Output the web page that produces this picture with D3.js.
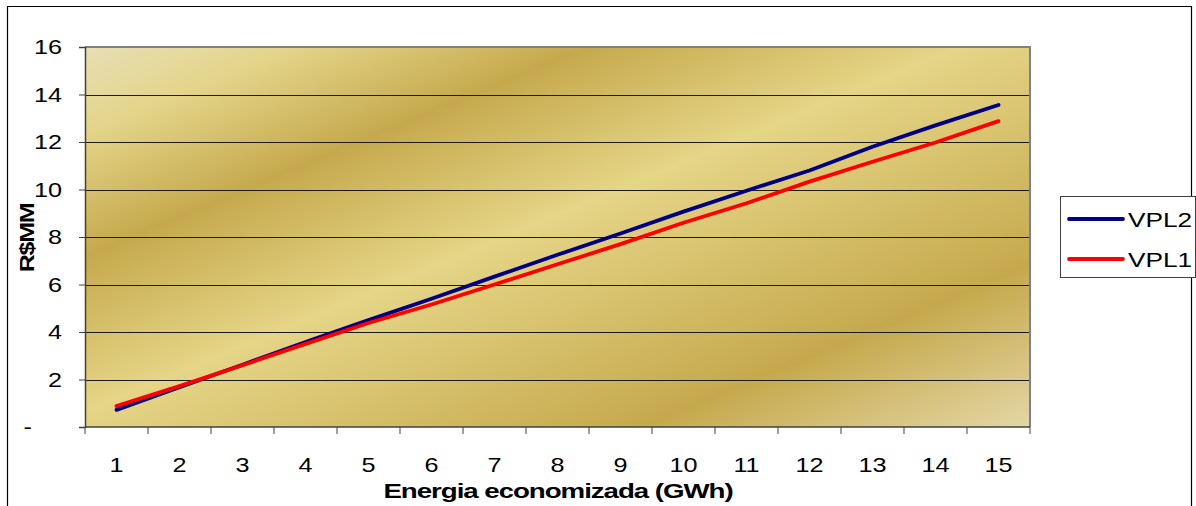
<!DOCTYPE html>
<html>
<head>
<meta charset="utf-8">
<script src="https://cdn.jsdelivr.net/npm/d3@7"></script>
<style>
  body { margin: 0; background: #fff; }
  text { font-family: "Liberation Sans", Arial, sans-serif; }
</style>
</head>
<body>
<div id="chart"></div>
<script>
const categories = ["1","2","3","4","5","6","7","8","9","10","11","12","13","14","15"];
const vpl2 = [0.72, 1.68, 2.62, 3.58, 4.5, 5.4, 6.33, 7.25, 8.15, 9.07, 9.95, 10.8, 11.8, 12.7, 13.56];
const vpl1 = [0.88, 1.72, 2.6, 3.5, 4.38, 5.16, 6.0, 6.85, 7.7, 8.6, 9.42, 10.33, 11.17, 11.98, 12.88];
const yTicks = [0, 2, 4, 6, 8, 10, 12, 14, 16];
const seriesNames = ["VPL2", "VPL1"];
const seriesColors = ["#000080", "#ff0000"];

const width = 1196, height = 506;
const plot = { left: 85, top: 47, right: 1030, bottom: 427 };

// the original text is drawn wider than the font's natural width
function stretch(sel, k) {
  sel.each(function() {
    const w = this.getComputedTextLength();
    d3.select(this)
      .attr("textLength", w * k)
      .attr("lengthAdjust", "spacingAndGlyphs");
  });
}

const svg = d3.select("#chart")
  .append("svg")
  .attr("width", width)
  .attr("height", height);

// outer chart border
svg.append("path")
  .attr("d", `M7.5,${height} V6.5 H1191.5 V${height}`)
  .attr("fill", "none")
  .attr("stroke", "#000")
  .attr("stroke-width", 1.2);

// gold diagonal gradient
const defs = svg.append("defs");
const grad = defs.append("linearGradient")
  .attr("id", "gold")
  .attr("gradientUnits", "userSpaceOnUse")
  .attr("x1", 85).attr("y1", 47)
  .attr("x2", 360).attr("y2", 707);
[[0, "#e7dfb6"], [0.11, "#e4d58b"], [0.27, "#c6a94d"], [0.47, "#e5d587"],
 [0.79, "#c6a94d"], [1, "#e3d7a6"]].forEach(s => {
  grad.append("stop").attr("offset", s[0]).attr("stop-color", s[1]);
});

const xScale = d3.scaleBand()
  .domain(categories)
  .range([plot.left, plot.right]);

const yScale = d3.scaleLinear()
  .domain([0, 16])
  .range([plot.bottom, plot.top]);

svg.append("rect")
  .attr("x", plot.left).attr("y", plot.top)
  .attr("width", plot.right - plot.left)
  .attr("height", plot.bottom - plot.top)
  .attr("fill", "url(#gold)");

// gridlines
svg.selectAll(".grid")
  .data(yTicks.filter(d => d > 0 && d < 16))
  .enter()
  .append("line")
  .attr("x1", plot.left).attr("x2", plot.right)
  .attr("y1", d => Math.round(yScale(d)) + 0.5)
  .attr("y2", d => Math.round(yScale(d)) + 0.5)
  .attr("stroke", "#1a1a1a")
  .attr("stroke-width", 1.2);

// plot border (top / right)
svg.append("path")
  .attr("d", `M${plot.left},${plot.top} H${plot.right} V${plot.bottom}`)
  .attr("fill", "none")
  .attr("stroke", "#808080")
  .attr("stroke-width", 2);

// y axis
const yAxis = svg.append("g")
  .attr("transform", `translate(${plot.left},0)`)
  .call(d3.axisLeft(yScale)
    .tickValues(yTicks)
    .tickFormat(d => d === 0 ? "-" : d)
    .tickSize(6)
    .tickPadding(17));
yAxis.select(".domain").attr("stroke", "#404040").attr("stroke-width", 1.5);
yAxis.selectAll(".tick line").attr("stroke", "#404040");
yAxis.selectAll("text")
  .style("font-size", "21px")
  .attr("fill", "#000")
  .call(stretch, 1.2);
yAxis.selectAll(".tick").filter(d => d === 0).select("text").attr("x", -53);

// x axis: labels centred, ticks on category boundaries
const xAxis = svg.append("g")
  .attr("transform", `translate(0,${plot.bottom})`)
  .call(d3.axisBottom(xScale).tickSize(0).tickPadding(30));
xAxis.select(".domain").remove();
xAxis.selectAll("text")
  .style("font-size", "21px")
  .attr("fill", "#000")
  .call(stretch, 1.2);

const bounds = categories.map(c => xScale(c)).concat([plot.right]);
svg.append("line")
  .attr("x1", plot.left).attr("x2", plot.right)
  .attr("y1", plot.bottom).attr("y2", plot.bottom)
  .attr("stroke", "#404040")
  .attr("stroke-width", 1.5);
svg.selectAll(".xtick")
  .data(bounds)
  .enter()
  .append("line")
  .attr("x1", d => d).attr("x2", d => d)
  .attr("y1", plot.bottom).attr("y2", plot.bottom + 7)
  .attr("stroke", "#404040");

// series lines
const line = d3.line()
  .x((d, i) => xScale(categories[i]) + xScale.bandwidth() / 2)
  .y(d => yScale(d));

[vpl2, vpl1].forEach((vals, k) => {
  svg.append("path")
    .datum(vals)
    .attr("d", line)
    .attr("fill", "none")
    .attr("stroke", seriesColors[k])
    .attr("stroke-width", 3.8)
    .attr("stroke-linecap", "round")
    .attr("stroke-linejoin", "round");
});

// axis titles
svg.append("text")
  .attr("transform", "translate(558,498) scale(1.32,1)")
  .attr("text-anchor", "middle")
  .style("font-size", "21px")
  .style("font-weight", "bold")
  .style("letter-spacing", "-0.8px")
  .text("Energia economizada (GWh)");

svg.append("text")
  .attr("transform", "translate(34,238) rotate(-90) scale(1.25,1)")
  .attr("text-anchor", "middle")
  .style("font-size", "20px")
  .style("font-weight", "bold")
  .style("letter-spacing", "-1px")
  .text("R$MM");

// legend
const legend = svg.append("g")
  .attr("transform", "translate(1060,196)");
legend.append("rect")
  .attr("x", 0.5).attr("y", 0.5)
  .attr("width", 135).attr("height", 81)
  .attr("fill", "#fff")
  .attr("stroke", "#404040");

const legendItem = legend.selectAll(".legend-item")
  .data(seriesNames)
  .enter()
  .append("g")
  .attr("class", "legend-item")
  .attr("transform", (d, i) => `translate(0, ${23 + i * 40})`);

legendItem.append("line")
  .attr("x1", 9).attr("x2", 63)
  .attr("stroke", (d, i) => seriesColors[i])
  .attr("stroke-width", 3.8)
  .attr("stroke-linecap", "round");

legendItem.append("text")
  .attr("x", 68)
  .attr("y", 8)
  .style("font-size", "21px")
  .text(d => d)
  .call(stretch, 1.25);
</script>
</body>
</html>
